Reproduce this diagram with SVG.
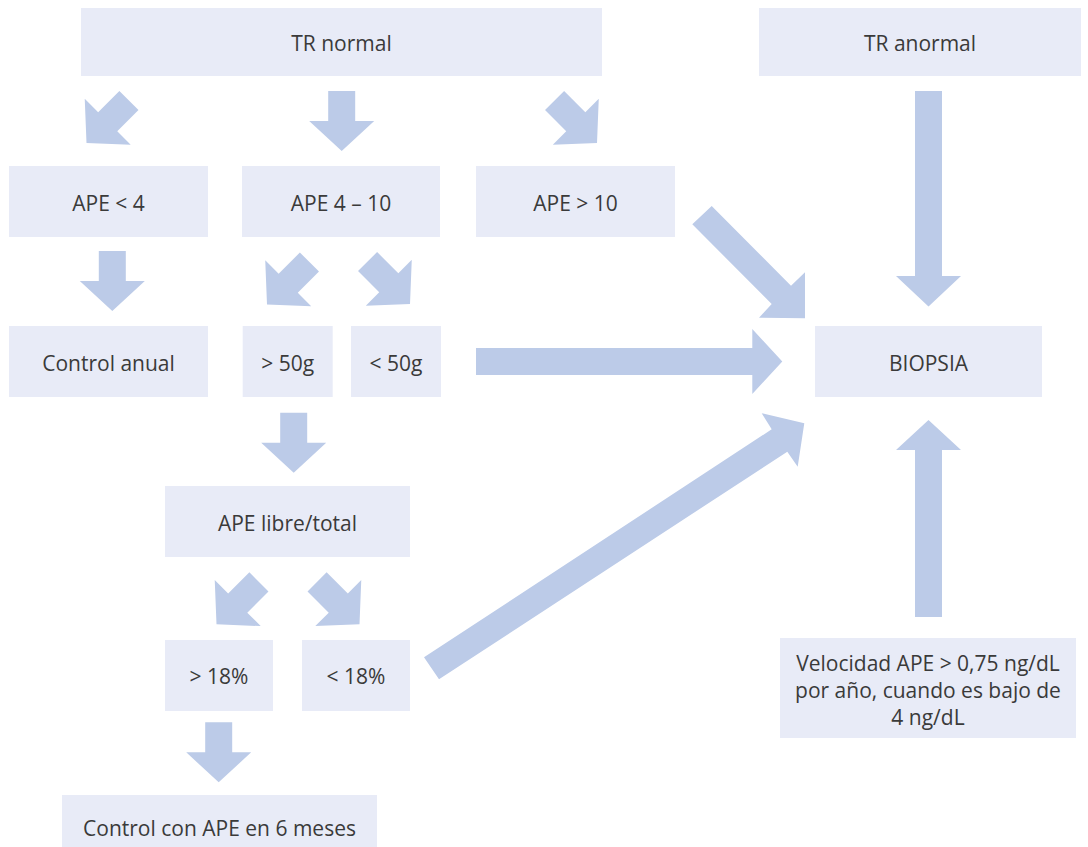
<svg xmlns="http://www.w3.org/2000/svg" xmlns:xlink="http://www.w3.org/1999/xlink" width="1088" height="847" viewBox="0 0 1088 847">
  <style>
    .box { fill: #e8ebf7; }
    .lbl { font-family: "Open Sans", "Noto Sans", "Liberation Sans", sans-serif; font-size: 21px; fill: #3a3a3a; text-anchor: middle; dominant-baseline: central; }
    .arr { fill: #bccbe8; }
  </style>
  <defs>
    <!-- block arrow, tip at origin, pointing down -->
    <path id="blk" d="M0,0 L-32.5,-30 L-13.5,-30 L-13.5,-60 L13.5,-60 L13.5,-30 L32.5,-30 Z"/>
  </defs>
  <rect width="1088" height="847" fill="#ffffff"/>

  <g id="connectors" class="arr">
    <use xlink:href="#blk" transform="translate(86.5,143) rotate(45)"/>
    <use xlink:href="#blk" transform="translate(341.7,151)"/>
    <use xlink:href="#blk" transform="translate(597,143) rotate(-45)"/>
    <use xlink:href="#blk" transform="translate(112.3,311)"/>
    <use xlink:href="#blk" transform="translate(267,304.5) rotate(45)"/>
    <use xlink:href="#blk" transform="translate(410,304) rotate(-45)"/>
    <use xlink:href="#blk" transform="translate(293.7,472.7)"/>
    <use xlink:href="#blk" transform="translate(216.5,624.3) rotate(45)"/>
    <use xlink:href="#blk" transform="translate(359.5,624.3) rotate(-45)"/>
    <use xlink:href="#blk" transform="translate(218.7,782.3)"/>
    <polygon points="915,91 942,91 942,276 961,276 928.5,306.5 896,276 915,276"/>
    <polygon points="915,617 942,617 942,450 961,450 928.5,420 896,450 915,450"/>
    <polygon points="476,348 752.3,348 752.3,329 782.3,361.5 752.3,394 752.3,375 476,375"/>
    <polygon points="711.7,206 791,285.7 805,272.3 805,318.3 759,317.7 771.7,304 692.3,224.3"/>
    <polygon points="424,657.3 771.7,429.3 761.7,413.3 804.3,423.3 797.7,466.7 787.3,451.7 439,679.3"/>
  </g>

  <g id="tr-normal">
    <rect class="box" x="81" y="8" width="521" height="68"/>
    <text class="lbl" x="341.5" y="43">TR normal</text>
  </g>
  <g id="tr-anormal">
    <rect class="box" x="759" y="8" width="322" height="68"/>
    <text class="lbl" x="920" y="43">TR anormal</text>
  </g>
  <g id="ape-lt4">
    <rect class="box" x="9" y="166" width="199" height="71"/>
    <text class="lbl" x="108.5" y="202.5">APE &lt; 4</text>
  </g>
  <g id="ape-4-10">
    <rect class="box" x="242" y="166" width="198" height="71"/>
    <text class="lbl" x="341" y="202.5">APE 4 – 10</text>
  </g>
  <g id="ape-gt10">
    <rect class="box" x="476" y="166" width="199" height="71"/>
    <text class="lbl" x="575.5" y="202.5">APE &gt; 10</text>
  </g>
  <g id="control-anual">
    <rect class="box" x="9" y="326" width="199" height="71"/>
    <text class="lbl" x="108.5" y="362.5">Control anual</text>
  </g>
  <g id="gt50g">
    <rect class="box" x="242.7" y="326" width="90" height="71"/>
    <text class="lbl" x="287.7" y="362.5">&gt; 50g</text>
  </g>
  <g id="lt50g">
    <rect class="box" x="351" y="326" width="90" height="71"/>
    <text class="lbl" x="396" y="362.5">&lt; 50g</text>
  </g>
  <g id="biopsia">
    <rect class="box" x="815" y="326" width="227" height="71"/>
    <text class="lbl" x="928.5" y="362.5">BIOPSIA</text>
  </g>
  <g id="ape-libre-total">
    <rect class="box" x="165" y="486" width="245" height="71"/>
    <text class="lbl" x="287.5" y="522.5">APE libre/total</text>
  </g>
  <g id="gt18">
    <rect class="box" x="165" y="640" width="108" height="71"/>
    <text class="lbl" x="219" y="676">&gt; 18%</text>
  </g>
  <g id="lt18">
    <rect class="box" x="302" y="640" width="108" height="71"/>
    <text class="lbl" x="356" y="676">&lt; 18%</text>
  </g>
  <g id="velocidad">
    <rect class="box" x="780" y="638" width="296" height="100"/>
    <text class="lbl" x="928" y="663">Velocidad APE &gt; 0,75 ng/dL</text>
    <text class="lbl" x="928" y="690">por año, cuando es bajo de</text>
    <text class="lbl" x="928" y="717">4 ng/dL</text>
  </g>
  <g id="control-6-meses">
    <rect class="box" x="62" y="795" width="315" height="52"/>
    <text class="lbl" x="219.5" y="828">Control con APE en 6 meses</text>
  </g>
</svg>
